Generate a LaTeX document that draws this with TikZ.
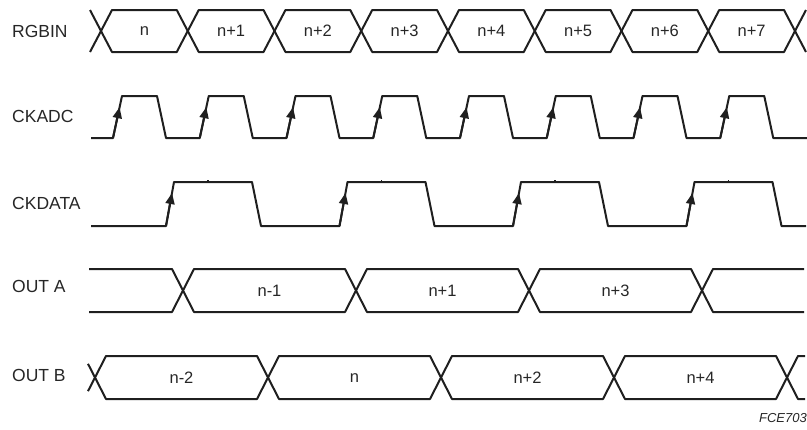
\documentclass[tikz,border=0pt]{standalone}
\usepackage{fontspec}
\setmainfont{Liberation Sans}
\usetikzlibrary{arrows.meta}
\begin{document}
\begin{tikzpicture}[x=1pt,y=-1pt,
  sig/.style={line width=2pt, line join=round, color=black!88},
  lbl/.style={anchor=west, font=\fontsize{17.5}{19}\selectfont, inner sep=0pt, text=black!85},
  val/.style={font=\fontsize{16.5}{19}\selectfont, inner sep=0pt, text=black!85},
  edgearrow/.style={line width=2pt, color=black!88, -{Triangle[length=11pt,width=9pt]}},
  tickmark/.style={line width=1.2pt, color=black!88},
]
\useasboundingbox (0,0) rectangle (807,429);

% ---------- signal names ----------
\node[lbl] (nRGBIN)  at (12,31)  {RGBIN};
\node[lbl] (nCKADC)  at (12,116) {CKADC};
\node[lbl] (nCKDATA) at (12,203) {CKDATA};
\node[lbl] (nOUTA)   at (12,286) {OUT A};
\node[lbl] (nOUTB)   at (12,375) {OUT B};

% ---------- RGBIN bus ----------
\draw[sig] (90,10) -- (101,31) -- (90,52);
\foreach \k/\t in {0/n,1/n+1,2/n+2,3/n+3,4/n+4,5/n+5,6/n+6,7/n+7} {
  \pgfmathsetmacro\ca{101+86.75*\k}
  \pgfmathsetmacro\cb{101+86.75*(\k+1)}
  \draw[sig] (\ca,31) -- (\ca+11,10) -- (\cb-11,10) -- (\cb,31)
             -- (\cb-11,52) -- (\ca+11,52) -- cycle;
  \node[val] (rgb\k) at ({(\ca+\cb)/2},31) {\t};
}
\draw[sig] (795,31) -- (806,10);
\draw[sig] (795,31) -- (806,52);

% ---------- CKADC ----------
\draw[sig] (91,138)
  \foreach \k in {0,...,7} {
    -- ({113+86.75*\k},138) -- ({122+86.75*\k},96)
    -- ({157+86.75*\k},96) -- ({166+86.75*\k},138)
  } -- (807,138);
\foreach \k in {0,...,7}
  \draw[edgearrow] ({113+86.75*\k},138) -- ({113+86.75*\k+6.6},107.2);

% ---------- CKDATA ----------
\draw[sig] (91,226)
  \foreach \k in {0,...,3} {
    -- ({166+173.5*\k},226) -- ({174+173.5*\k},182)
    -- ({252+173.5*\k},182) -- ({261+173.5*\k},226)
  } -- (806,226);
\foreach \k in {0,...,3} {
  \draw[edgearrow] ({166+173.5*\k},226) -- ({166+173.5*\k+6},193);
  \draw[tickmark] ({208+173.5*\k},182) -- ({208+173.5*\k},180);
}

% ---------- OUT A bus ----------
\draw[sig] (89,269) -- (172,269) -- (183,290.5) -- (172,312) -- (89,312);
\foreach \k/\t in {0/n-1,1/n+1,2/n+3} {
  \pgfmathsetmacro\ca{183+173*\k}
  \pgfmathsetmacro\cb{183+173*(\k+1)}
  \draw[sig] (\ca,290.5) -- (\ca+11,269) -- (\cb-11,269) -- (\cb,290.5)
             -- (\cb-11,312) -- (\ca+11,312) -- cycle;
  \node[val] (outa\k) at ({(\ca+\cb)/2},291) {\t};
}
\draw[sig] (702,290.5) -- (713,269) -- (804,269);
\draw[sig] (702,290.5) -- (713,312) -- (804,312);

% ---------- OUT B bus ----------
\draw[sig] (88,363.8) -- (95,377.5) -- (88,391.2);
\foreach \k/\t in {0/n-2,1/n,2/n+2,3/n+4} {
  \pgfmathsetmacro\ca{95+173*\k}
  \pgfmathsetmacro\cb{95+173*(\k+1)}
  \draw[sig] (\ca,377.5) -- (\ca+11,356) -- (\cb-11,356) -- (\cb,377.5)
             -- (\cb-11,399) -- (\ca+11,399) -- cycle;
  \node[val] (outb\k) at ({(\ca+\cb)/2},378) {\t};
}
\draw[sig] (787,377.5) -- (798,356) -- (805,356);
\draw[sig] (787,377.5) -- (798,399) -- (805,399);

% ---------- figure code ----------
\node[anchor=east, inner sep=0pt, font=\fontsize{13}{15}\selectfont\itshape, text=black!85]
  (code) at (807,418) {FCE703};
\end{tikzpicture}
\end{document}
